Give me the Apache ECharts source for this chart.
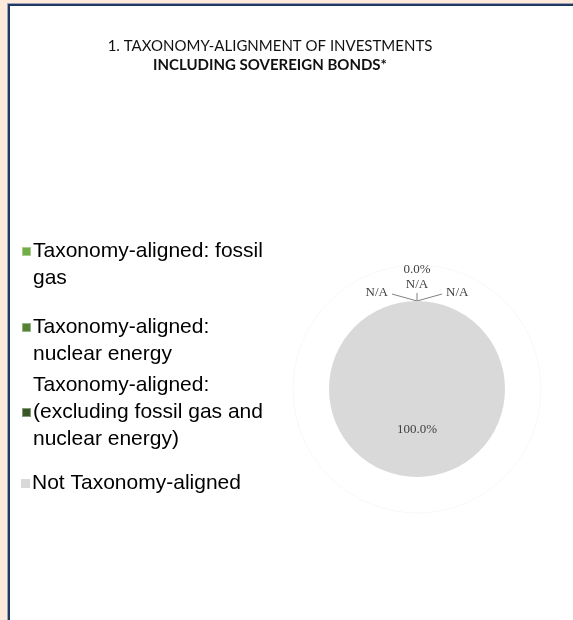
<!DOCTYPE html>
<html><head><meta charset="utf-8">
<script src="https://cdn.jsdelivr.net/npm/echarts@6/dist/echarts.min.js"></script>
<style>
html,body{margin:0;padding:0;background:#FFE9DA;width:573px;height:620px;overflow:hidden}
#edge{position:absolute;left:7px;top:3px;width:600px;height:660px;background:#9aa4b8}
#frame{position:absolute;left:8px;top:4px;width:600px;height:660px;background:#fff;border-left:2px solid #203864;border-top:2px solid #203864}
#chart{position:absolute;left:0;top:0;width:573px;height:620px}
</style></head><body>
<div id="edge"></div><div id="frame"></div><div id="chart"></div>
<script>
const titleLine1 = '1. TAXONOMY-ALIGNMENT OF INVESTMENTS';
const titleLine2 = 'INCLUDING SOVEREIGN BONDS*';
const categories = [
  'Taxonomy-aligned: fossil gas',
  'Taxonomy-aligned: nuclear energy',
  'Taxonomy-aligned: (excluding fossil gas and nuclear energy)',
  'Not Taxonomy-aligned'
];
const shares = [0, 0, 0, 100];
const sliceLabels = ['N/A', 'N/A', '0.0%\nN/A', '100.0%'];
const labelSide = [-1, 1, 0, 0];
const colors = ['#70AD47', '#548235', '#375623', '#D9D9D9'];
const legendTops = [211, 287, 372, 470];

const chart = echarts.init(document.getElementById('chart'), null, {renderer: 'canvas'});
chart.setOption({
  backgroundColor: 'transparent',
  animation: false,
  title: {
    text: '{a|' + titleLine1 + '}\n{b|' + titleLine2 + '}',
    left: 270, top: 37, textAlign: 'center', padding: 0,
    textStyle: {
      fontWeight: 'normal',
      rich: {
        a: {fontFamily: 'Lato', fontSize: 15, fontWeight: 'normal', lineHeight: 19, color: '#111'},
        b: {fontFamily: 'Lato', fontSize: 15, fontWeight: 'bold', lineHeight: 19, color: '#111'}
      }
    }
  },
  legend: categories.map((c, i) => ({
    data: [c], orient: 'vertical', left: 21, top: legendTops[i], padding: 0,
    itemWidth: 9, itemHeight: 9, icon: 'rect', selectedMode: false,
    formatter: n => (i < 2 ? '\n' : '') + n,
    textStyle: {fontFamily: 'Liberation Sans', fontSize: 21, lineHeight: 27, color: '#000',
      width: 240, overflow: 'break', padding: [0, 0, 0, -3]}
  })),
  series: [
    {
      type: 'pie', silent: true, center: [417, 389], radius: 124, z: 1,
      data: [{value: 1, name: '', itemStyle: {color: 'rgba(0,0,0,0)', borderColor: '#f8f8f8', borderWidth: 1}}],
      label: {show: false}, labelLine: {show: false}, legendHoverLink: false
    },
    {
      type: 'pie', center: [417, 389], radius: 88, startAngle: 90, clockwise: true,
      avoidLabelOverlap: false, z: 2,
      data: categories.map((c, i) => ({
        name: c, value: shares[i],
        itemStyle: {color: colors[i], borderColor: shares[i] > 0 ? 'rgba(0,0,0,0)' : 'rgba(255,255,255,0.4)', borderWidth: shares[i] > 0 ? 0 : 1},
        label: {position: shares[i] > 0 ? 'inside' : 'outside'},
        labelLine: {show: shares[i] === 0}
      })),
      label: {show: true, fontFamily: 'Liberation Serif', fontSize: 13, lineHeight: 15, color: '#404040',
        formatter: p => sliceLabels[p.dataIndex]},
      labelLine: {lineStyle: {color: '#808080', width: 1}},
      labelLayout: function (p) {
        if (shares[p.dataIndex] > 0) return {dy: -6};
        const pts = p.labelLinePoints;
        if (!pts) return {};
        const tx = pts[0][0], ty = pts[0][1];
        const s = labelSide[p.dataIndex];
        if (s === 0) {
          return {x: tx, y: ty - 9, align: 'center', verticalAlign: 'bottom',
            labelLinePoints: [[tx, ty], [tx, ty - 8], [tx, ty - 8]]};
        }
        return {x: tx + s * 29, y: ty - 8, align: s < 0 ? 'right' : 'left', verticalAlign: 'middle',
          labelLinePoints: [[tx, ty], [tx + s * 25, ty - 7], [tx + s * 25, ty - 7]]};
      }
    }
  ]
});
</script>
</body></html>
